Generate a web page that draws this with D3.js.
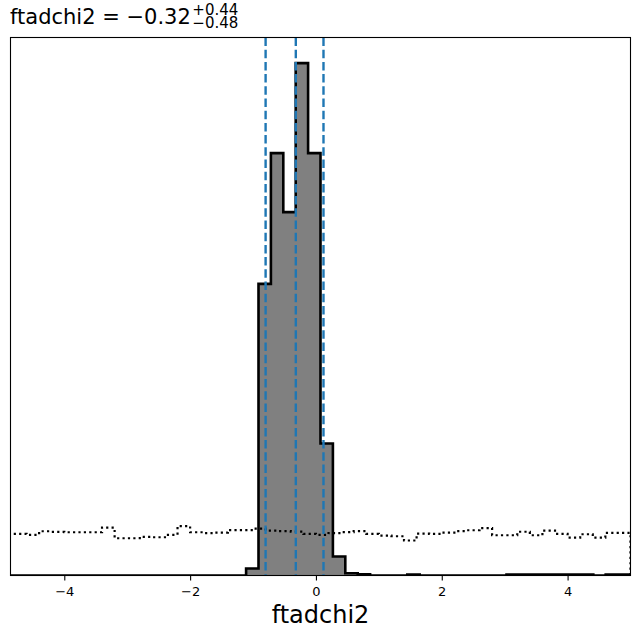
<!DOCTYPE html>
<html>
<head>
<meta charset="utf-8">
<script src="https://cdn.jsdelivr.net/npm/d3@7"></script>
<style>
  html, body { margin: 0; padding: 0; background: #ffffff; }
  svg { display: block; }
</style>
</head>
<body>
<svg id="chart" width="640" height="639"></svg>
<script>
// ---- data ----
const paramName = "ftadchi2";
const median = -0.32, errPlus = 0.44, errMinus = 0.48;
const quantileLines = [-0.80, -0.32, 0.12];
const xDomain = [-4.855, 5];
const xTicks = [-4, -2, 0, 2, 4];

// posterior histogram (density), 50 bins over postRange
const postRange = [-4.855, 5];
const postDensity = [
  0,0,0,0,0,0,0,0,0,0,
  0,0,0,0,0,0,0,0,0,0.0165,
  0.687,0.995,0.856,1.207,0.995,0.311,0.0447,0.0054,0.0028,0,
  0,0,0.0024,0,0,0,0,0,0,0,
  0.0024,0.0024,0.0024,0.0024,0.0024,0.0024,0.0024,0,0.0024,0.0024
];

// prior histogram (density), 50 bins over [-5, 5]
const priorRange = [-5, 5];
const priorDensity = [
  0.0981,0.0981,0.0958,0.1042,0.1028,0.1019,0.1019,0.1019,0.1129,0.0878,
  0.0878,0.0911,0.0901,0.0958,0.1165,0.1019,0.1000,0.1012,0.1071,0.1071,
  0.1106,0.1059,0.1047,0.1035,0.0981,0.0958,0.1000,0.1024,0.1047,0.0981,
  0.0941,0.0925,0.0824,0.0988,0.0981,0.1012,0.1047,0.1066,0.1118,0.0948,
  0.0948,0.1031,0.0948,0.1059,0.0981,0.0894,0.0972,0.0894,0.1005,0.1005
];

// ---- layout ----
const L = 10.5, R = 630.5, T = 37.5, B = 575.5;
const svg = d3.select("#chart");
const font = "'DejaVu Sans', sans-serif";

const x = d3.scaleLinear().domain(xDomain).range([L, R]);
const yMax = d3.max(postDensity) * 1.05;
const y = d3.scaleLinear().domain([0, yMax]).range([B, T]);

function edges(range, n) {
  const w = (range[1] - range[0]) / n;
  return d3.range(n + 1).map(i => range[0] + i * w);
}
function stepPoints(range, vals) {
  const e = edges(range, vals.length);
  const pts = [[e[0], 0]];
  vals.forEach((v, i) => { pts.push([e[i], v]); pts.push([e[i + 1], v]); });
  pts.push([e[vals.length], 0]);
  return pts;
}
const line = d3.line().x(d => x(d[0])).y(d => y(d[1]));

svg.append("defs").append("clipPath").attr("id", "clip")
  .append("rect").attr("x", L).attr("y", T).attr("width", R - L).attr("height", B - T);

const plot = svg.append("g").attr("clip-path", "url(#clip)");

const postPts = stepPoints(postRange, postDensity);
plot.append("path").attr("d", line(postPts) + "Z")
  .attr("fill", "#808080").attr("stroke", "none");
plot.append("path").attr("d", line(postPts))
  .attr("fill", "none").attr("stroke", "#000").attr("stroke-width", 2.6)
  .attr("stroke-linejoin", "miter");

plot.append("path").attr("d", line(stepPoints(priorRange, priorDensity)))
  .attr("fill", "none").attr("stroke", "#000").attr("stroke-width", 2.2)
  .attr("stroke-dasharray", "2.2,3.2");

plot.selectAll("line.q").data(quantileLines).join("line")
  .attr("class", "q")
  .attr("x1", d => x(d)).attr("x2", d => x(d))
  .attr("y1", T).attr("y2", B)
  .attr("stroke", "#1f77b4").attr("stroke-width", 2.4)
  .attr("stroke-dasharray", "8.5,3.7");

// frame
svg.append("rect").attr("x", L).attr("y", T).attr("width", R - L).attr("height", B - T)
  .attr("fill", "none").attr("stroke", "#000").attr("stroke-width", 1.1);

// x axis
const fmt = d => (d < 0 ? "\u2212" + Math.abs(d) : String(d));
const ax = svg.append("g").attr("transform", `translate(0,${B})`)
  .call(d3.axisBottom(x).tickValues(xTicks).tickSize(5).tickPadding(6).tickFormat(fmt));
ax.select(".domain").remove();
ax.selectAll("line").attr("stroke", "#000").attr("stroke-width", 1.1);
ax.selectAll("text").attr("font-family", font).attr("font-size", 13).attr("fill", "#000");

// x label
svg.append("text").attr("x", (L + R) / 2).attr("y", 623)
  .attr("text-anchor", "middle").attr("font-family", font).attr("font-size", 24)
  .attr("fill", "#000").text(paramName);

// title with super/subscript
const fmtNum = v => (v < 0 ? "\u2212" : "") + Math.abs(v).toFixed(2);
const title = svg.append("text").attr("x", 10).attr("y", 23.5)
  .attr("font-family", font).attr("font-size", 21).attr("fill", "#000")
  .text(`${paramName} = ${fmtNum(median)}`);
const tw = title.node().getComputedTextLength();
svg.append("text").attr("x", 10 + tw + 1.5).attr("y", 14.5)
  .attr("font-family", font).attr("font-size", 15).attr("fill", "#000")
  .text("+" + errPlus.toFixed(2));
svg.append("text").attr("x", 10 + tw + 1.5).attr("y", 28)
  .attr("font-family", font).attr("font-size", 15).attr("fill", "#000")
  .text("\u2212" + errMinus.toFixed(2));
</script>
</body>
</html>
